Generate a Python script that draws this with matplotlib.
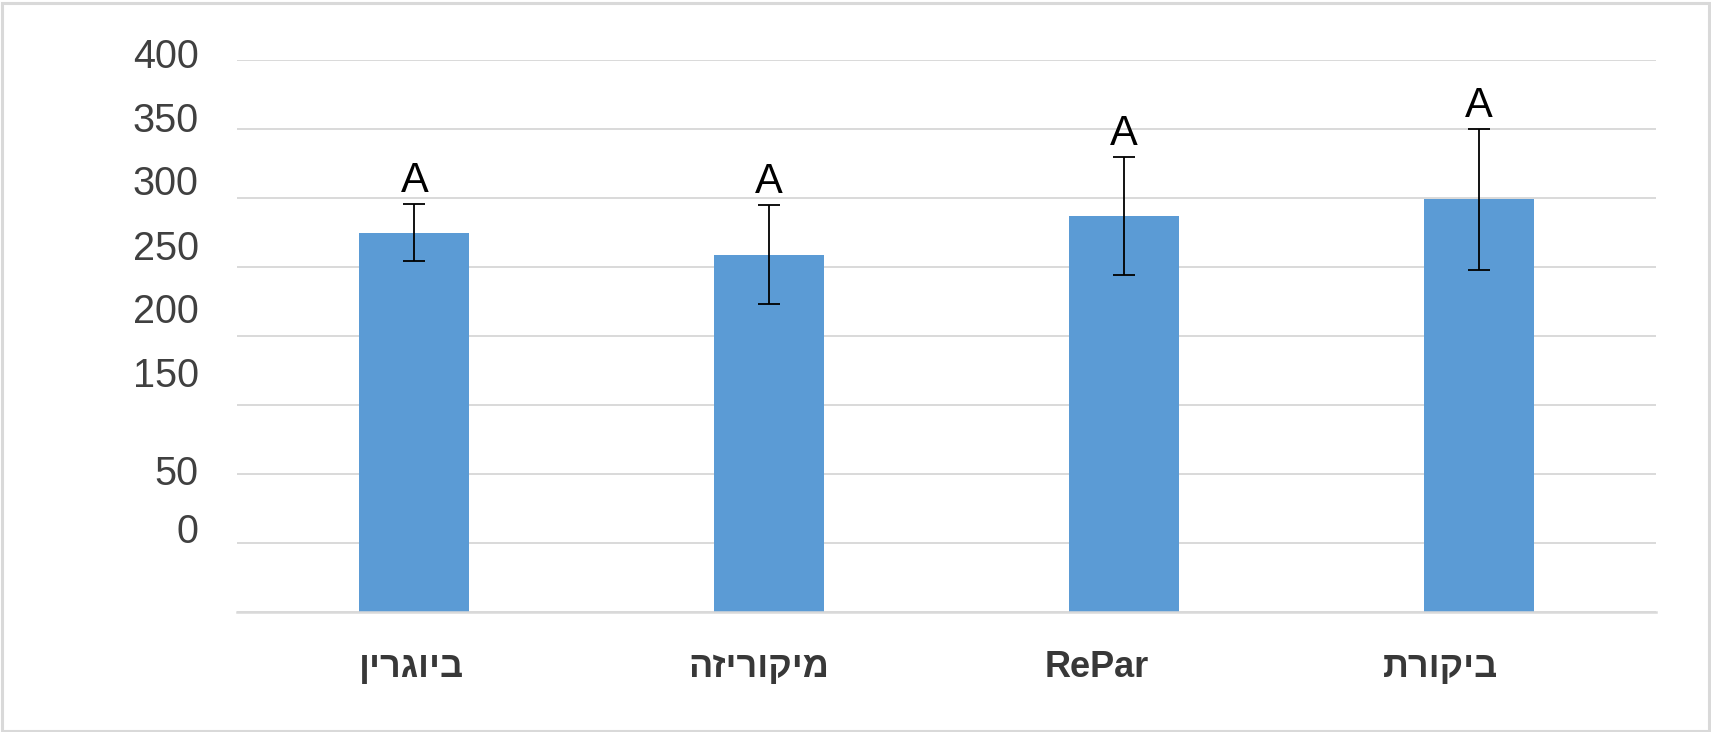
import matplotlib
matplotlib.use("Agg")
import matplotlib.pyplot as plt
from matplotlib.patches import Rectangle

# ---- data ----
categories = ["ביוגרין", "מיקוריזה", "RePar", "ביקורת"]
means = [275, 259, 287, 299]
errors = [21, 36, 43, 51]
letters = ["A", "A", "A", "A"]
ytick_labels = ["400", "350", "300", "250", "200", "150", "50", "0"]
# (the reference draws its tick labels at shifted heights)
ytick_label_pos = [394.2, 347.8, 302.2, 255, 209.4, 163, 92, 50]
grid_ticks = [0, 50, 100, 150, 200, 250, 300, 350, 400]
# horizontal shift of category labels in the reference (points)
cat_label_dx = [-2.2, -7.2, -19.4, -27.4]


def visual(s):
    # matplotlib has no bidi support: reverse Hebrew strings for display
    if any('\u0590' <= ch <= '\u05FF' for ch in s):
        return s[::-1]
    return s


W, H, DPI = 1711, 732, 100
fig = plt.figure(figsize=(W / DPI, H / DPI), dpi=DPI)
fig.patch.set_facecolor("white")

ax = fig.add_axes([237 / W, 1 - 612 / H, (1656 - 237) / W, (612 - 60) / H])
x = list(range(len(categories)))
ax.bar(x, means, width=0.31, color="#5b9bd5", zorder=2)
ax.errorbar(x, means, yerr=errors, fmt="none", ecolor="black",
            elinewidth=1.3, capsize=8, capthick=1.3, zorder=3)

ax.set_xlim(-0.5, len(categories) - 0.5)
ax.set_ylim(0, 400)
ax.set_yticks(grid_ticks)
ax.set_yticklabels([])
ax.tick_params(axis="both", length=0, labelbottom=False)
ax.set_xticks([])
ax.grid(axis="y", color="#d9d9d9", linewidth=1.4, zorder=0)
for s in ["top", "right", "left"]:
    ax.spines[s].set_visible(False)
ax.spines["bottom"].set_color("#d9d9d9")
ax.spines["bottom"].set_linewidth(1.8)
ax.set_axisbelow(True)

# letters above error bars
for xi, m, e, t in zip(x, means, errors, letters):
    ax.annotate(t, xy=(xi, m + e), xytext=(0, 8.5), textcoords="offset points",
                ha="center", va="baseline", fontsize=30, color="black",
                family=["Liberation Sans", "DejaVu Sans"], annotation_clip=False)

# y tick labels
ytr = ax.get_yaxis_transform()
for lab, pos in zip(ytick_labels, ytick_label_pos):
    ax.text(-0.027, pos, lab, transform=ytr, ha="right", va="baseline",
            fontsize=28.5, color="#404040", family=["Liberation Sans", "DejaVu Sans"],
            clip_on=False)

# category labels
for xi, c, dx in zip(x, categories, cat_label_dx):
    ax.annotate(visual(c), xy=(xi, 0), xycoords=("data", "axes fraction"),
                xytext=(dx, -46.8), textcoords="offset points",
                ha="center", va="baseline", fontsize=26, fontweight="bold",
                color="#383838", family=["Liberation Sans", "DejaVu Sans"],
                annotation_clip=False)

# figure border
fig.add_artist(Rectangle((1.5 / W, 1.5 / H), 1 - 4 / W, 1 - 4 / H,
                         transform=fig.transFigure, fill=False,
                         edgecolor="#d9d9d9", linewidth=2.2))

fig.savefig("out.png", dpi=DPI, facecolor="white")
